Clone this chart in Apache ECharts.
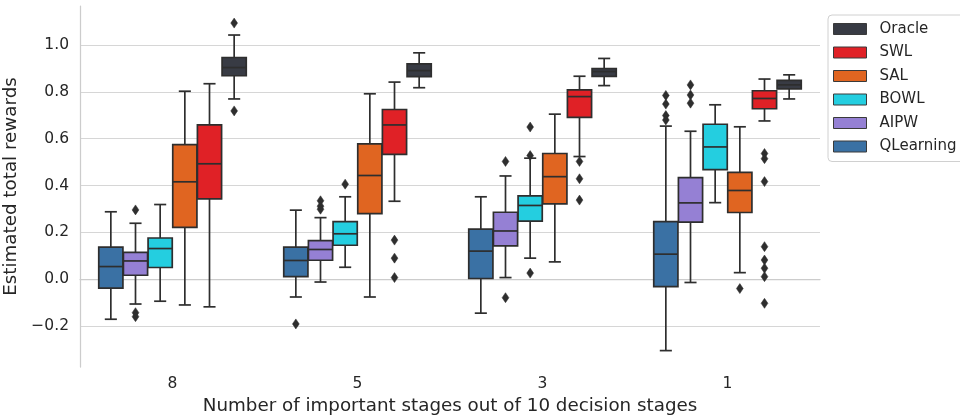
<!DOCTYPE html>
<html>
<head>
<meta charset="utf-8">
<script src="https://cdn.jsdelivr.net/npm/echarts@6/dist/echarts.min.js"></script>
<style>
html,body{margin:0;padding:0;background:#fff;}
#chart{width:960px;height:415px;}
</style>
</head>
<body>
<div id="chart"></div>
<script>
// Categories on the x axis
const categories = ['8', '5', '3', '1'];
// Methods, in box order (left to right within a group)
const methods = ['QLearning', 'AIPW', 'BOWL', 'SAL', 'SWL', 'Oracle'];
// Legend order
const legendOrder = ['Oracle', 'SWL', 'SAL', 'BOWL', 'AIPW', 'QLearning'];
// y tick labels
const yTicks = [-0.2, 0.0, 0.2, 0.4, 0.6, 0.8, 1.0];

// Box stats per category: [lower whisker, Q1, median, Q3, upper whisker]
const qlearningBox = [
  [-0.171, -0.038, 0.054, 0.137, 0.288],
  [-0.076, 0.011, 0.080, 0.137, 0.295],
  [-0.145, 0.003, 0.120, 0.214, 0.352],
  [-0.305, -0.032, 0.107, 0.246, 0.654]
];
const aipwBox = [
  [-0.106, 0.017, 0.078, 0.115, 0.239],
  [-0.012, 0.081, 0.127, 0.165, 0.263],
  [0.007, 0.142, 0.206, 0.286, 0.441],
  [-0.014, 0.244, 0.326, 0.434, 0.632]
];
const bowlBox = [
  [-0.094, 0.050, 0.131, 0.176, 0.319],
  [0.051, 0.145, 0.194, 0.246, 0.352],
  [0.090, 0.248, 0.315, 0.356, 0.517],
  [0.327, 0.468, 0.565, 0.662, 0.745]
];
const salBox = [
  [-0.110, 0.221, 0.416, 0.575, 0.803],
  [-0.076, 0.280, 0.443, 0.578, 0.792],
  [0.074, 0.322, 0.438, 0.537, 0.705],
  [0.028, 0.285, 0.379, 0.456, 0.651]
];
const swlBox = [
  [-0.118, 0.343, 0.493, 0.659, 0.835],
  [0.333, 0.533, 0.659, 0.725, 0.842],
  [0.524, 0.691, 0.780, 0.809, 0.867],
  [0.676, 0.728, 0.772, 0.805, 0.855]
];
const oracleBox = [
  [0.770, 0.869, 0.904, 0.947, 1.043],
  [0.818, 0.865, 0.891, 0.920, 0.967],
  [0.827, 0.866, 0.887, 0.900, 0.943],
  [0.770, 0.813, 0.830, 0.849, 0.873]
];

// Outliers per category
const qlearningOut = [[], [-0.191], [], [0.785, 0.748, 0.699, 0.680]];
const aipwOut = [[0.296, -0.143, -0.160], [0.335, 0.312, 0.299], [0.503, -0.079], [0.830, 0.787, 0.752]];
const bowlOut = [[], [0.406], [0.650, 0.528, 0.026], []];
const salOut = [[], [], [], [-0.040]];
const swlOut = [[], [0.167, 0.090, 0.007], [0.503, 0.429, 0.338], [0.537, 0.515, 0.417, 0.139, 0.082, 0.047, 0.011, -0.103]];
const oracleOut = [[1.094, 0.719], [], [], []];

const boxes = [qlearningBox, aipwBox, bowlBox, salBox, swlBox, oracleBox];
const outliers = [qlearningOut, aipwOut, bowlOut, salOut, swlOut, oracleOut];
const colors = ['#3a71a4', '#9580d4', '#24cee0', '#e06521', '#e02126', '#383b44'];
const edge = '#2e2e2e';
const FONT = 'DejaVu Sans';

function makeRender(h) {
  return function (params, api) {
    const ci = api.value(0);
    const band = api.size([1, 0])[0];
    const slot = band * 0.8 / methods.length;
    const w = slot * 0.98;
    const cx = api.coord([ci, 0])[0] + (h - (methods.length - 1) / 2) * slot;
    const yMin = api.coord([ci, api.value(1)])[1];
    const yQ1 = api.coord([ci, api.value(2)])[1];
    const yMed = api.coord([ci, api.value(3)])[1];
    const yQ3 = api.coord([ci, api.value(4)])[1];
    const yMax = api.coord([ci, api.value(5)])[1];
    const lw = 1.7;
    const ls = { stroke: edge, lineWidth: lw };
    const capW = w / 2;
    const children = [
      { type: 'line', shape: { x1: cx, y1: yQ3, x2: cx, y2: yMax }, style: ls },
      { type: 'line', shape: { x1: cx, y1: yQ1, x2: cx, y2: yMin }, style: ls },
      { type: 'line', shape: { x1: cx - capW / 2, y1: yMax, x2: cx + capW / 2, y2: yMax }, style: ls },
      { type: 'line', shape: { x1: cx - capW / 2, y1: yMin, x2: cx + capW / 2, y2: yMin }, style: ls },
      { type: 'rect', shape: { x: cx - w / 2, y: yQ3, width: w, height: yQ1 - yQ3 },
        style: { fill: colors[h], stroke: edge, lineWidth: lw } },
      { type: 'line', shape: { x1: cx - w / 2, y1: yMed, x2: cx + w / 2, y2: yMed }, style: ls }
    ];
    const outs = outliers[h][params.dataIndex] || [];
    outs.forEach(function (v) {
      const y = api.coord([ci, v])[1];
      const dx = 3.4, dy = 5;
      children.push({
        type: 'polygon',
        shape: { points: [[cx, y - dy], [cx + dx, y], [cx, y + dy], [cx - dx, y]] },
        style: { fill: edge, stroke: edge, lineWidth: 0.5 }
      });
    });
    return { type: 'group', children: children };
  };
}

const series = methods.map(function (m, h) {
  return {
    type: 'custom',
    name: m,
    data: boxes[h].map(function (b, i) { return [i].concat(b); }),
    encode: { x: 0, y: [1, 2, 3, 4, 5] },
    itemStyle: { color: colors[h], borderColor: edge },
    renderItem: makeRender(h),
    z: 3
  };
});

const chart = echarts.init(document.getElementById('chart'), null, { renderer: 'canvas' });
chart.setOption({
  animation: false,
  backgroundColor: '#ffffff',
  textStyle: { fontFamily: FONT },
  grid: { left: 80, right: 140, top: 6, bottom: 48, containLabel: false, outerBoundsMode: 'none' },
  legend: {
    orient: 'vertical',
    left: 828,
    top: 15,
    padding: [6, 30, 7, 5],
    icon: 'rect',
    itemWidth: 33,
    itemHeight: 11,
    itemGap: 7.5,
    data: legendOrder,
    textStyle: { fontSize: 15, color: '#262626', fontFamily: FONT, padding: [0, 0, 0, 8], lineHeight: 16 },
    itemStyle: { borderColor: '#3a3a3a', borderWidth: 1 },
    borderColor: '#d0d0d0',
    borderWidth: 1,
    borderRadius: 4,
    backgroundColor: '#ffffff'
  },
  xAxis: {
    type: 'category',
    data: categories,
    boundaryGap: true,
    name: 'Number of important stages out of 10 decision stages',
    nameLocation: 'middle',
    nameGap: 29,
    nameTextStyle: { fontSize: 18.3, color: '#262626', fontFamily: FONT },
    axisLine: { show: true, lineStyle: { color: '#cccccc', width: 1.25 } },
    axisTick: { show: false },
    axisLabel: { fontSize: 15.5, color: '#262626', margin: 9, fontFamily: FONT },
    splitLine: { show: false }
  },
  yAxis: {
    type: 'value',
    min: -0.375,
    max: 1.167,
    name: 'Estimated total rewards',
    nameLocation: 'middle',
    nameGap: 51,
    nameTextStyle: { fontSize: 18.3, color: '#262626', fontFamily: FONT },
    axisLine: { show: true, lineStyle: { color: '#cccccc', width: 1.25 } },
    axisTick: { show: false, customValues: yTicks },
    axisLabel: {
      customValues: yTicks,
      fontSize: 15.5, color: '#262626', margin: 11, fontFamily: FONT,
      formatter: function (v) { return (v < 0 ? '\u2212' : '') + Math.abs(v).toFixed(1); }
    },
    splitLine: { show: true, lineStyle: { color: '#d6d6d6', width: 1 } }
  },
  series: series
});
</script>
</body>
</html>
